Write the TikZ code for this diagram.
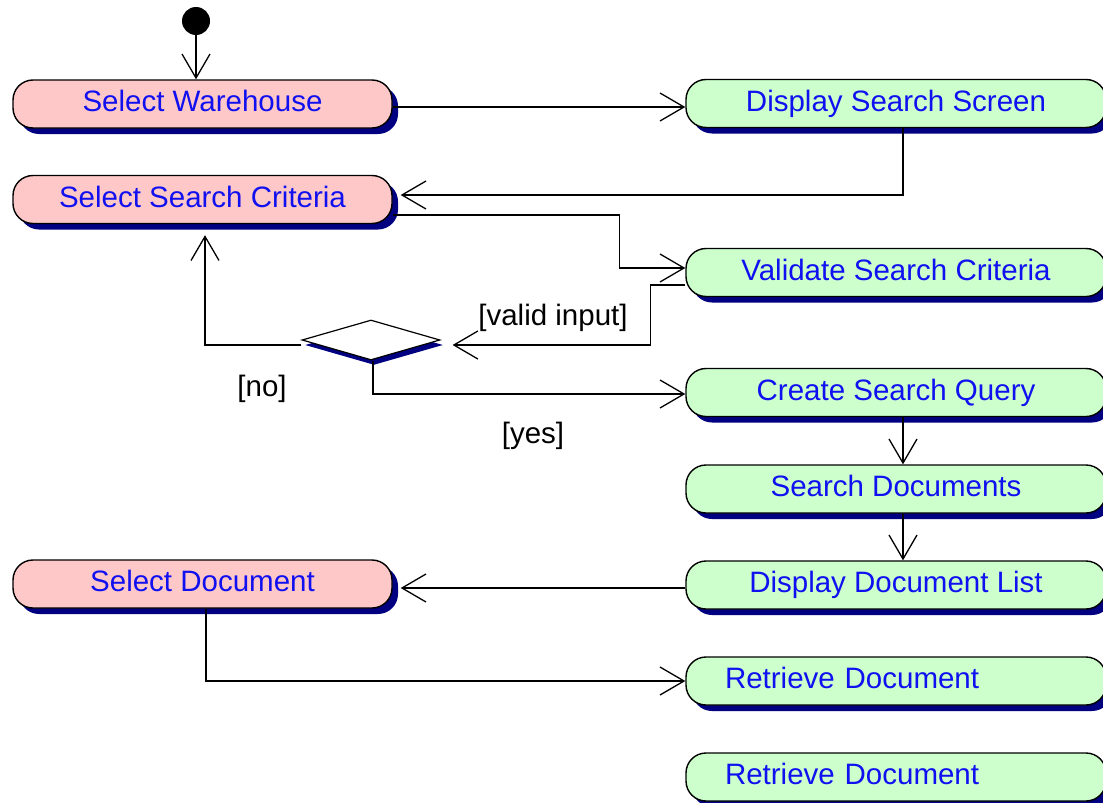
\documentclass[tikz,border=0pt]{standalone}
\usepackage{fontspec}
\setmainfont{Liberation Sans}
\usetikzlibrary{arrows.meta,shapes.geometric,shadows}
\definecolor{pinkfill}{RGB}{255,200,200}
\definecolor{greenfill}{RGB}{204,255,204}
\definecolor{navy}{RGB}{0,0,128}
\definecolor{txtblue}{RGB}{16,16,240}
\begin{document}
\begin{tikzpicture}[x=1pt,y=-1pt,
  every node/.style={font=\fontsize{29.5}{35}\selectfont},
  act/.style={draw=black,line width=1.4pt,rectangle,rounded corners=20pt,
    minimum height=48pt,inner sep=0pt,text=txtblue,text height=21pt,text depth=6pt,
    drop shadow={shadow xshift=6pt,shadow yshift=-6pt,fill=navy,opacity=1}},
  pinkact/.style={act,fill=pinkfill,minimum width=379pt},
  greenact/.style={act,fill=greenfill,minimum width=420pt},
  leftact/.style={greenact,text width=342pt,align=left},
  arr/.style={line width=1.5pt,-{Straight Barb[length=24pt,width=28pt,line width=1.3pt]}},
  guard/.style={text=black,inner sep=0pt}]
\useasboundingbox (0,0) rectangle (1103,803);
\clip (0,0) rectangle (1103,803);

% start
\node[circle,fill=black,minimum size=28pt,inner sep=0pt] (init) at (196,21) {};

% pink activities
\node[pinkact] (sw) at (202.5,104) {Select Warehouse};
\node[pinkact] (ssc) at (202.5,199.5) {Select Search Criteria};
\node[pinkact] (sd) at (202.5,584) {Select Document};

% green activities
\node[greenact] (dss) at (896,103.5) {Display Search Screen};
\node[greenact] (vsc) at (896,272.5) {Validate Search Criteria};
\node[greenact] (csq) at (896,392.5) {Create Search Query};
\node[greenact] (sdoc) at (896,489) {Search Documents};
\node[greenact] (ddl) at (896,585) {Display Document List};
\node[leftact] (rd1) at (896,681) {Retrieve Document};
\node[leftact] (rd2) at (896,777) {Retrieve Document};

% decision
\node[diamond,draw=black,line width=1.2pt,fill=white,shape aspect=3.45,
  minimum width=138pt,minimum height=40pt,inner sep=0pt,
  drop shadow={shadow xshift=3pt,shadow yshift=-5pt,fill=navy,opacity=1}] (dia) at (371,340) {};

% connectors
\draw[arr] (init) -- (init |- sw.north);
\draw[arr] ([yshift=-3pt]sw.east) -- ([yshift=-3.5pt]dss.west);
\draw[arr] ([xshift=7pt]dss.south) |- ([xshift=8pt,yshift=4.5pt]ssc.east);
\draw[arr] ([yshift=-15.5pt]ssc.east) -- ++(227,0) |- ([yshift=4.5pt]vsc.west);
\draw[arr] ([yshift=-12.5pt]vsc.west) -- ++(-35,0) |- ([xshift=12pt,yshift=-5pt]dia.east);
\draw[arr] ([yshift=-5pt]dia.west) -| ([xshift=2.5pt,yshift=-11pt]ssc.south);
\draw[arr] ([xshift=2pt]dia.south) |- ([yshift=-1.5pt]csq.west);
\draw[arr] ([xshift=7pt]csq.south) -- ([xshift=7pt]sdoc.north);
\draw[arr] ([xshift=7pt]sdoc.south) -- ([xshift=7pt]ddl.north);
\draw[arr] ([yshift=-3pt]ddl.west) -- ([xshift=8pt,yshift=-4pt]sd.east);
\draw[arr] ([xshift=3.5pt]sd.south) |- (rd1.west);

% guards
\node[guard] (gvalid) at (553,318) {[valid input]};
\node[guard] (gno) at (262,389) {[no]};
\node[guard] (gyes) at (533,436) {[yes]};
\end{tikzpicture}
\end{document}
